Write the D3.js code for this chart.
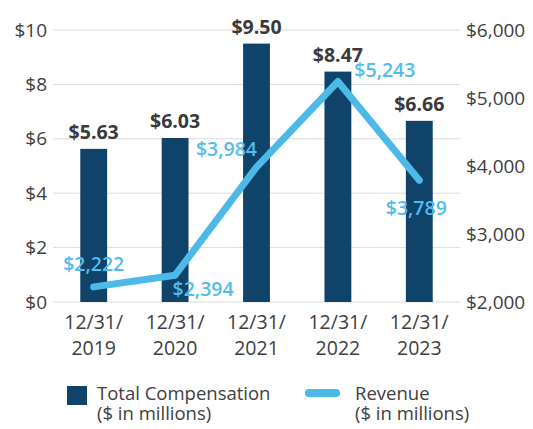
<!DOCTYPE html>
<html><head><meta charset="utf-8">
<script src="https://cdn.jsdelivr.net/npm/d3@7"></script>
<style>body{margin:0;background:#fff}svg{display:block}</style>
</head><body>
<svg id="c" width="533" height="429"></svg>
<script>
const categories = ["12/31/2019","12/31/2020","12/31/2021","12/31/2022","12/31/2023"];
const compensation = [5.63, 6.03, 9.50, 8.47, 6.66];
const revenue = [2222, 2394, 3984, 5243, 3789];
const leftTicks = [0, 2, 4, 6, 8, 10];
const rightTicks = [2000, 3000, 4000, 5000, 6000];
const legendLabels = ["Total Compensation", "Revenue"];

(function () {
const font = "'Open Sans', sans-serif";
const barColor = "#0f436a", lineColor = "#4cb9e8", textColor = "#404040";
const svg = d3.select("#c");
const pl = 53, pr = 460, pt = 30, pb = 302;

const x = d3.scaleBand().domain(categories).range([pl, pr]).paddingInner(0.67).paddingOuter(0.335);
const yL = d3.scaleLinear().domain([0, 10]).range([pb, pt]);
const yR = d3.scaleLinear().domain([2000, 6000]).range([pb, pt]);

// grid
svg.append("g").selectAll("line").data(leftTicks).join("line")
  .attr("x1", pl).attr("x2", pr)
  .attr("y1", d => yL(d)).attr("y2", d => yL(d))
  .attr("stroke", "#dcdcdc").attr("stroke-width", 1);

// left axis
const axL = d3.axisLeft(yL).tickValues(leftTicks).tickFormat(d => "$" + d).tickSize(0).tickPadding(0);
svg.append("g").attr("transform", `translate(${pl-6},0)`).call(axL)
  .call(g => g.select(".domain").remove())
  .selectAll("text").attr("font-family", font).attr("font-size", 19).attr("fill", textColor);

// right axis
const axR = d3.axisRight(yR).tickValues(rightTicks).tickFormat(d => "$" + d3.format(",")(d)).tickSize(0).tickPadding(0);
svg.append("g").attr("transform", `translate(${pr+6},0)`).call(axR)
  .call(g => g.select(".domain").remove())
  .selectAll("text").attr("font-family", font).attr("font-size", 19).attr("fill", textColor);

// bars
svg.append("g").selectAll("rect").data(categories).join("rect")
  .attr("x", d => x(d)).attr("width", x.bandwidth())
  .attr("y", (d, i) => yL(compensation[i])).attr("height", (d, i) => pb - yL(compensation[i]))
  .attr("fill", barColor);

// bar labels
svg.append("g").selectAll("text").data(categories).join("text")
  .attr("x", d => x(d) + x.bandwidth()/2)
  .attr("y", (d, i) => yL(compensation[i]) - 10)
  .attr("text-anchor", "middle").attr("font-family", font).attr("font-weight", 700)
  .attr("font-size", 19.5).attr("fill", "#3a3a3a")
  .text((d, i) => "$" + compensation[i].toFixed(2));

// line
const line = d3.line().x((d, i) => x(categories[i]) + x.bandwidth()/2).y(d => yR(d));
svg.append("path").datum(revenue).attr("d", line)
  .attr("fill", "none").attr("stroke", lineColor).attr("stroke-width", 7)
  .attr("stroke-linecap", "round").attr("stroke-linejoin", "round");

// revenue labels
const offs = [[0, -16], [28, 21], [-30, -11], [47, -4], [-3, 35]];
svg.append("g").selectAll("text").data(revenue).join("text")
  .attr("x", (d, i) => x(categories[i]) + x.bandwidth()/2 + offs[i][0])
  .attr("y", (d, i) => yR(d) + offs[i][1])
  .attr("text-anchor", "middle").attr("font-family", font).attr("font-weight", 600)
  .attr("font-size", 19.5).attr("fill", "#52bcea")
  .text(d => "$" + d3.format(",")(d));

// x labels
const xl = svg.append("g").selectAll("text").data(categories).join("text")
  .attr("text-anchor", "middle").attr("font-family", font)
  .attr("font-size", 19.5).attr("fill", textColor);
xl.append("tspan").attr("x", d => x(d) + x.bandwidth()/2).attr("y", 329).text(d => d.slice(0, 6));
xl.append("tspan").attr("x", d => x(d) + x.bandwidth()/2).attr("y", 355).text(d => d.slice(6));

// legend
const lg = svg.append("g");
lg.append("rect").attr("x", 67).attr("y", 386).attr("width", 20).attr("height", 19).attr("fill", barColor);
lg.append("line").attr("x1", 309).attr("x2", 336).attr("y1", 393).attr("y2", 393)
  .attr("stroke", lineColor).attr("stroke-width", 8).attr("stroke-linecap", "round");
[[97, legendLabels[0]], [355, legendLabels[1]]].forEach(([lx, t]) => {
  const tx = lg.append("text").attr("font-family", font).attr("font-size", 18.5).attr("fill", textColor);
  tx.append("tspan").attr("x", lx).attr("y", 400).text(t);
  tx.append("tspan").attr("x", lx).attr("y", 420).text("($ in millions)");
});
})();
</script>
</body></html>
